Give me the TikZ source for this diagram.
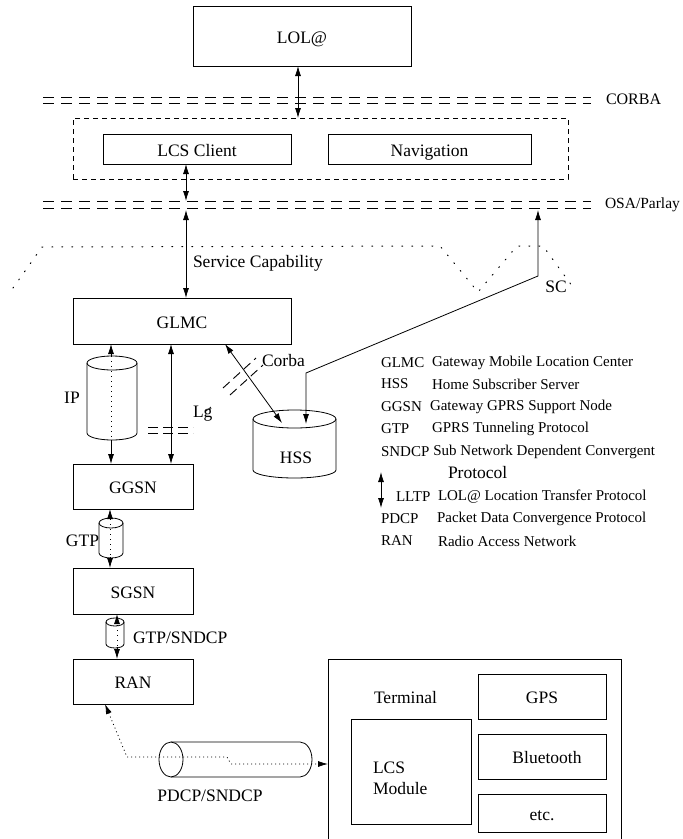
\documentclass[tikz,border=0pt]{standalone}
\usepackage{fontspec}
\setmainfont{Liberation Serif}
\usetikzlibrary{arrows.meta}
\begin{document}
\begin{tikzpicture}[x=1pt,y=-1pt,
  every node/.style={font=\fontsize{17.5}{21}\selectfont, inner sep=0pt, outer sep=0pt},
  ln/.style={line width=0.8pt},
  blk/.style={draw, line width=0.8pt, text height=16pt, text depth=2pt},
  legend/.style={font=\fontsize{15}{18}\selectfont, anchor=west},
  lbl/.style={anchor=west},
  tip/.tip={Latex[length=10pt,width=6pt]},
  arr/.style={line width=0.8pt, -tip},
  dbl/.style={line width=0.8pt, tip-tip},
  dashline/.style={line width=1pt, dash pattern=on 11pt off 7pt},
  boxdash/.style={draw, line width=0.7pt, dash pattern=on 5pt off 4pt},
  dotline/.style={line width=0.8pt, dash pattern=on 1pt off 4pt},
  scdot/.style={line width=1pt, dash pattern=on 1pt off 9pt, line cap=round},
  hash/.style={line width=0.9pt, dash pattern=on 10pt off 5pt}]
\fill[white] (0,0) rectangle (683,839);
\useasboundingbox (0,0) rectangle (683,839);

% top
\node[blk, minimum width=218pt, minimum height=60pt] (lol) at (302,36) {LOL@};
\coordinate (corL1) at (43,97); \coordinate (corR1) at (591,97);
\coordinate (corL2) at (43,103); \coordinate (corR2) at (591,103);
\draw[dashline] (corL1) -- (corR1);
\draw[dashline] (corL2) -- (corR2);
\node[lbl, font=\fontsize{16}{19}\selectfont] (corba) at (606,99) {CORBA};

\node[boxdash, minimum width=495pt, minimum height=61pt] (clientbox) at (320.5,148.5) {};
\node[blk, minimum width=188pt, minimum height=30pt] (lcs) at (197,149) {LCS Client};
\node[blk, minimum width=203pt, minimum height=30pt] (nav) at (429.5,149) {Navigation};
\draw[dbl] ([xshift=-4pt]lol.south) -- ([xshift=-4pt]lol.south |- clientbox.north);

\coordinate (osaL1) at (43,201); \coordinate (osaR1) at (591,201);
\coordinate (osaL2) at (43,208); \coordinate (osaR2) at (591,208);
\draw[dashline] (osaL1) -- (osaR1);
\draw[dashline] (osaL2) -- (osaR2);
\node[lbl, font=\fontsize{15.5}{19}\selectfont] (osa) at (605,205) {OSA/Parlay};
\coordinate (osaT) at (43,201);
\coordinate (osaB) at (43,210);

% service capability boundary
\draw[scdot] (13,288) -- (42,247) -- (440,246) -- (478,292) -- (517,246) -- (543,246) -- (575,290);
\node[lbl] (servcap) at (193,263) {Service Capability};
\node (sc) at (556,287) {SC};

% GLMC
\node[blk, minimum width=218pt, minimum height=46pt] (glmc) at (182,321) {GLMC};
\draw[dbl] ([xshift=-11pt]lcs.south) -- ([xshift=-11pt]lcs.south |- osaT);
\draw[dbl] ([xshift=4pt]glmc.north |- osaB) -- ([xshift=4pt]glmc.north);

% GGSN, SGSN, RAN
\node[blk, minimum width=120pt, minimum height=45pt] (ggsn) at (133,486.5) {GGSN};
\node[blk, minimum width=120pt, minimum height=46pt] (sgsn) at (133,591) {SGSN};
\node[blk, minimum width=120pt, minimum height=45pt] (ran) at (133,681.5) {RAN};

% IP cylinder
\draw[ln] (112,363) ellipse [x radius=25pt, y radius=7pt];
\draw[ln] (87,363) -- (87,433) arc[start angle=180, end angle=360, x radius=25pt, y radius=7pt] -- (137,363);
\coordinate (ipTop) at (111,356);
\coordinate (ipBot) at (111,440);
\draw[arr] (ipTop) -- (glmc.south -| ipTop);
\draw[dotline] (ipTop) -- (ipBot);
\draw[arr] (ipBot) -- (ggsn.north -| ipBot);
\node (ip) at (72,398) {IP};

% Lg
\draw[dbl] ([xshift=-11pt]glmc.south) -- ([xshift=-11pt]glmc.south |- ggsn.north);
\coordinate (lgA1) at (148,427); \coordinate (lgB1) at (193,427);
\coordinate (lgA2) at (148,433); \coordinate (lgB2) at (193,433);
\draw[hash] (lgA1) -- (lgB1);
\draw[hash] (lgA2) -- (lgB2);
\node[lbl] (lg) at (193,414) {Lg};
\draw[line width=0.7pt] (206,411) -- (211,407);

% HSS cylinder
\draw[ln] (294.5,419) ellipse [x radius=41.5pt, y radius=9pt];
\draw[ln] (253,419) -- (253,470) arc[start angle=180, end angle=360, x radius=41.5pt, y radius=8pt] -- (336,419);
\node (hss) at (296,458) {HSS};
\coordinate (hssA) at (282,423);
\coordinate (hssB) at (306,424);
\coordinate (scC) at (538,276);

% Corba
\draw[dbl] ([xshift=43pt]glmc.south) -- (hssA);
\coordinate (cbA1) at (223,388); \coordinate (cbB1) at (256,358);
\coordinate (cbA2) at (230,395); \coordinate (cbB2) at (263,365);
\draw[hash, dash pattern=on 9pt off 5pt] (cbA1) -- (cbB1);
\draw[hash, dash pattern=on 9pt off 5pt] (cbA2) -- (cbB2);
\node[lbl] (corbalbl) at (262,361) {Corba};

% SC connector
\draw[dbl] (hssB) -- ++(0,-51) -- (scC) -- (scC |- osaB);

% GTP
\draw[ln] (111,523) ellipse [x radius=12pt, y radius=5pt];
\draw[ln] (99,523) -- (99,553) arc[start angle=180, end angle=360, x radius=12pt, y radius=5pt] -- (123,523);
\coordinate (gtpT) at (110,519);
\coordinate (gtpB) at (110,557);
\draw[arr] (gtpT) -- (ggsn.south -| gtpT);
\draw[dotline] (gtpT) -- (gtpB);
\draw[arr] (gtpB) -- (sgsn.north -| gtpB);
\node[anchor=east] (gtp) at (99,541) {GTP};

% GTP/SNDCP
\draw[ln] (115,622) ellipse [x radius=9pt, y radius=4pt];
\draw[ln] (106,622) -- (106,644) arc[start angle=180, end angle=360, x radius=9pt, y radius=4pt] -- (124,622);
\coordinate (gsT) at (117,620);
\coordinate (gsB) at (117,647);
\draw[arr] (gsT) -- (sgsn.south -| gsT);
\draw[dotline] (gsT) -- (gsB);
\draw[arr] (gsB) -- (ran.north -| gsB);
\node[lbl] (gtpsndcp) at (133,638) {GTP/SNDCP};

% Terminal
\node[draw, line width=0.8pt, minimum width=293pt, minimum height=186pt] (terminal) at (474.5,752) {};
\node[lbl] (termlbl) at (374,698) {Terminal};
\node[blk, minimum width=128pt, minimum height=45pt] (gps) at (542,696.5) {GPS};
\node[blk, minimum width=128pt, minimum height=45pt] (bt) at (542,756.5) {\hspace*{10pt}Bluetooth};
\node[blk, minimum width=128pt, minimum height=38pt] (etc) at (542,813) {etc.};
\node[draw, line width=0.8pt, minimum width=120pt, minimum height=105pt] (lcsm) at (411,771.5) {};
\node[lbl, align=left] (lcsmtext) at (373,778) {LCS\\Module};

% PDCP cylinder
\draw[ln] (171,759.5) ellipse [x radius=12pt, y radius=17.5pt];
\draw[ln] (171,742) -- (300,742) arc[start angle=90, end angle=-90, x radius=12pt, y radius=17.5pt] -- (171,777);
\draw[line width=0.8pt, dash pattern=on 1pt off 3pt, tip-tip] ([xshift=-28pt]ran.south) -- (127,757) -- (227,757) -- (231,764) -- ([yshift=-12pt]terminal.west);
\node (pdcp) at (210,796) {PDCP/SNDCP};

% legend
\node[legend] (l1a) at (381,363) {GLMC};
\node[legend] (l1b) at (432,363) {Gateway Mobile Location Center};
\node[legend] (l2a) at (381,384) {HSS};
\node[legend] (l2b) at (432,384) {Home Subscriber Server};
\node[legend] (l3a) at (381,407) {GGSN};
\node[legend] (l3b) at (430,407) {Gateway GPRS Support Node};
\node[legend] (l4a) at (381,429) {GTP};
\node[legend] (l4b) at (432,429) {GPRS Tunneling Protocol};
\node[legend] (l5a) at (381,452) {SNDCP};
\node[legend] (l5b) at ([xshift=4pt]l5a.east) {Sub Network Dependent Convergent};
\node[lbl] (l5c) at (448,473) {Protocol};
\coordinate (legArrT) at (381,472);
\coordinate (legArrB) at (381,508);
\draw[dbl] (legArrT) -- (legArrB);
\node[legend] (l6a) at (396,497) {LLTP};
\node[legend] (l6b) at (438,497) {LOL@ Location Transfer Protocol};
\node[legend] (l7a) at (381,519) {PDCP};
\node[legend] (l7b) at (437,519) {Packet Data Convergence Protocol};
\node[legend] (l8a) at (381,541) {RAN};
\node[legend] (l8b) at (438,541) {Radio Access Network};
\end{tikzpicture}
\end{document}
